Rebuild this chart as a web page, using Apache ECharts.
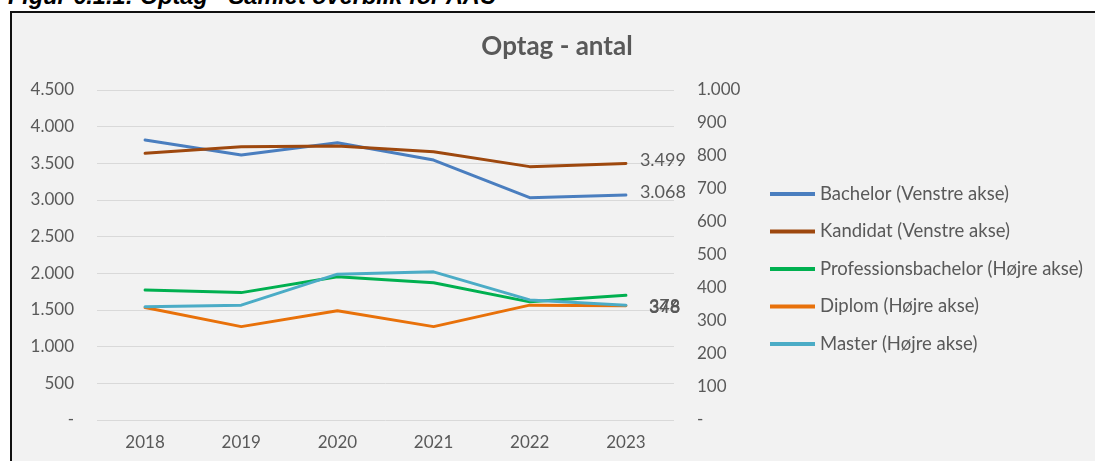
<!DOCTYPE html>
<html>
<head>
<meta charset="utf-8">
<script src="https://cdn.jsdelivr.net/npm/echarts@6/dist/echarts.min.js"></script>
<style>
  html, body { margin: 0; padding: 0; width: 1095px; height: 461px; overflow: hidden; background: #ffffff; }
  #caption { position: absolute; left: 8px; top: -15px; font-family: "Liberation Sans", Arial, sans-serif; font-weight: bold; font-style: italic; font-size: 23.5px; line-height: 23px; color: #000; white-space: nowrap; }
  #box { position: absolute; left: 10px; top: 11px; width: 1100px; height: 470px; background: #f2f2f2; border-left: 2px solid #111; border-top: 2px solid #111; }
  #chart { position: absolute; left: 0; top: 0; width: 1095px; height: 461px; }
</style>
</head>
<body>
<div id="caption">Figur 6.1.1: Optag - Samlet overblik for AAU</div>
<div id="box"></div>
<div id="chart"></div>
<script>
// ---- data ----
const years = ['2018', '2019', '2020', '2021', '2022', '2023'];
const bachelor = [3818, 3614, 3782, 3545, 3032, 3068];
const kandidat = [3636, 3727, 3736, 3659, 3455, 3499];
const professionsbachelor = [394, 386, 434, 416, 358, 378];
const diplom = [341, 283, 331, 283, 348, 346];
const master = [343, 348, 442, 449, 364, 348];
const seriesNames = [
  'Bachelor (Venstre akse)',
  'Kandidat (Venstre akse)',
  'Professionsbachelor (Højre akse)',
  'Diplom (Højre akse)',
  'Master (Højre akse)'
];
const colors = ['#4a7ebf', '#9e480e', '#00b050', '#e8710a', '#4bacc6'];

const FONT = 'Lato, "Open Sans", sans-serif';
const TXT = '#595959';

function fmt(v) {
  if (v === 0) return '-';
  return String(v).replace(/\B(?=(\d{3})+(?!\d))/g, '.');
}

function lineSeries(name, data, color, yIdx, endOffset) {
  return {
    name: name,
    type: 'line',
    yAxisIndex: yIdx,
    data: data,
    showSymbol: false,
    symbol: 'none',
    smooth: false,
    lineStyle: { color: color, width: 3, cap: 'round', join: 'round' },
    itemStyle: { color: color },
    endLabel: {
      show: true,
      formatter: p => fmt(p.value),
      distance: 14,
      offset: endOffset,
      color: TXT,
      fontFamily: FONT,
      fontSize: 18
    },
    emphasis: { disabled: true }
  };
}

const chart = echarts.init(document.getElementById('chart'), null, { renderer: 'canvas' });
chart.setOption({
  backgroundColor: 'transparent',
  animation: false,
  color: colors,
  graphic: [{
    type: 'text',
    x: 557,
    y: 47,
    style: {
      text: 'Optag - antal',
      textAlign: 'center',
      textVerticalAlign: 'middle',
      font: 'bold 26px ' + FONT,
      fill: TXT
    }
  }],
  legend: {
    orient: 'vertical',
    left: 770,
    top: 184,
    padding: 0,
    itemWidth: 45,
    itemHeight: 4,
    itemGap: 17.5,
    icon: 'rect',
    data: seriesNames,
    textStyle: { color: TXT, fontFamily: FONT, fontSize: 18.5, lineHeight: 20 },
    selectedMode: false
  },
  grid: { left: 97, right: 421, top: 90, bottom: 41, containLabel: false },
  xAxis: {
    type: 'category',
    data: years,
    boundaryGap: true,
    axisLine: { show: false },
    axisTick: { show: false },
    axisLabel: { color: TXT, fontFamily: FONT, fontSize: 17, margin: 14 }
  },
  yAxis: [{
    type: 'value',
    min: 0, max: 4500, interval: 500,
    axisLine: { show: false },
    axisTick: { show: false },
    splitLine: { lineStyle: { color: '#d9d9d9', width: 1 } },
    axisLabel: { color: TXT, fontFamily: FONT, fontSize: 17, margin: 23, formatter: fmt }
  }, {
    type: 'value',
    min: 0, max: 1000, interval: 100,
    axisLine: { show: false },
    axisTick: { show: false },
    splitLine: { show: false },
    axisLabel: { color: TXT, fontFamily: FONT, fontSize: 17, margin: 23, formatter: fmt }
  }],
  series: [
    lineSeries(seriesNames[0], bachelor, colors[0], 0, [0, -3]),
    lineSeries(seriesNames[1], kandidat, colors[1], 0, [0, -3]),
    lineSeries(seriesNames[2], professionsbachelor, colors[2], 1, [9, 11]),
    lineSeries(seriesNames[3], diplom, colors[3], 1, [9, 1]),
    lineSeries(seriesNames[4], master, colors[4], 1, [9, 2])
  ]
});
</script>
</body>
</html>
